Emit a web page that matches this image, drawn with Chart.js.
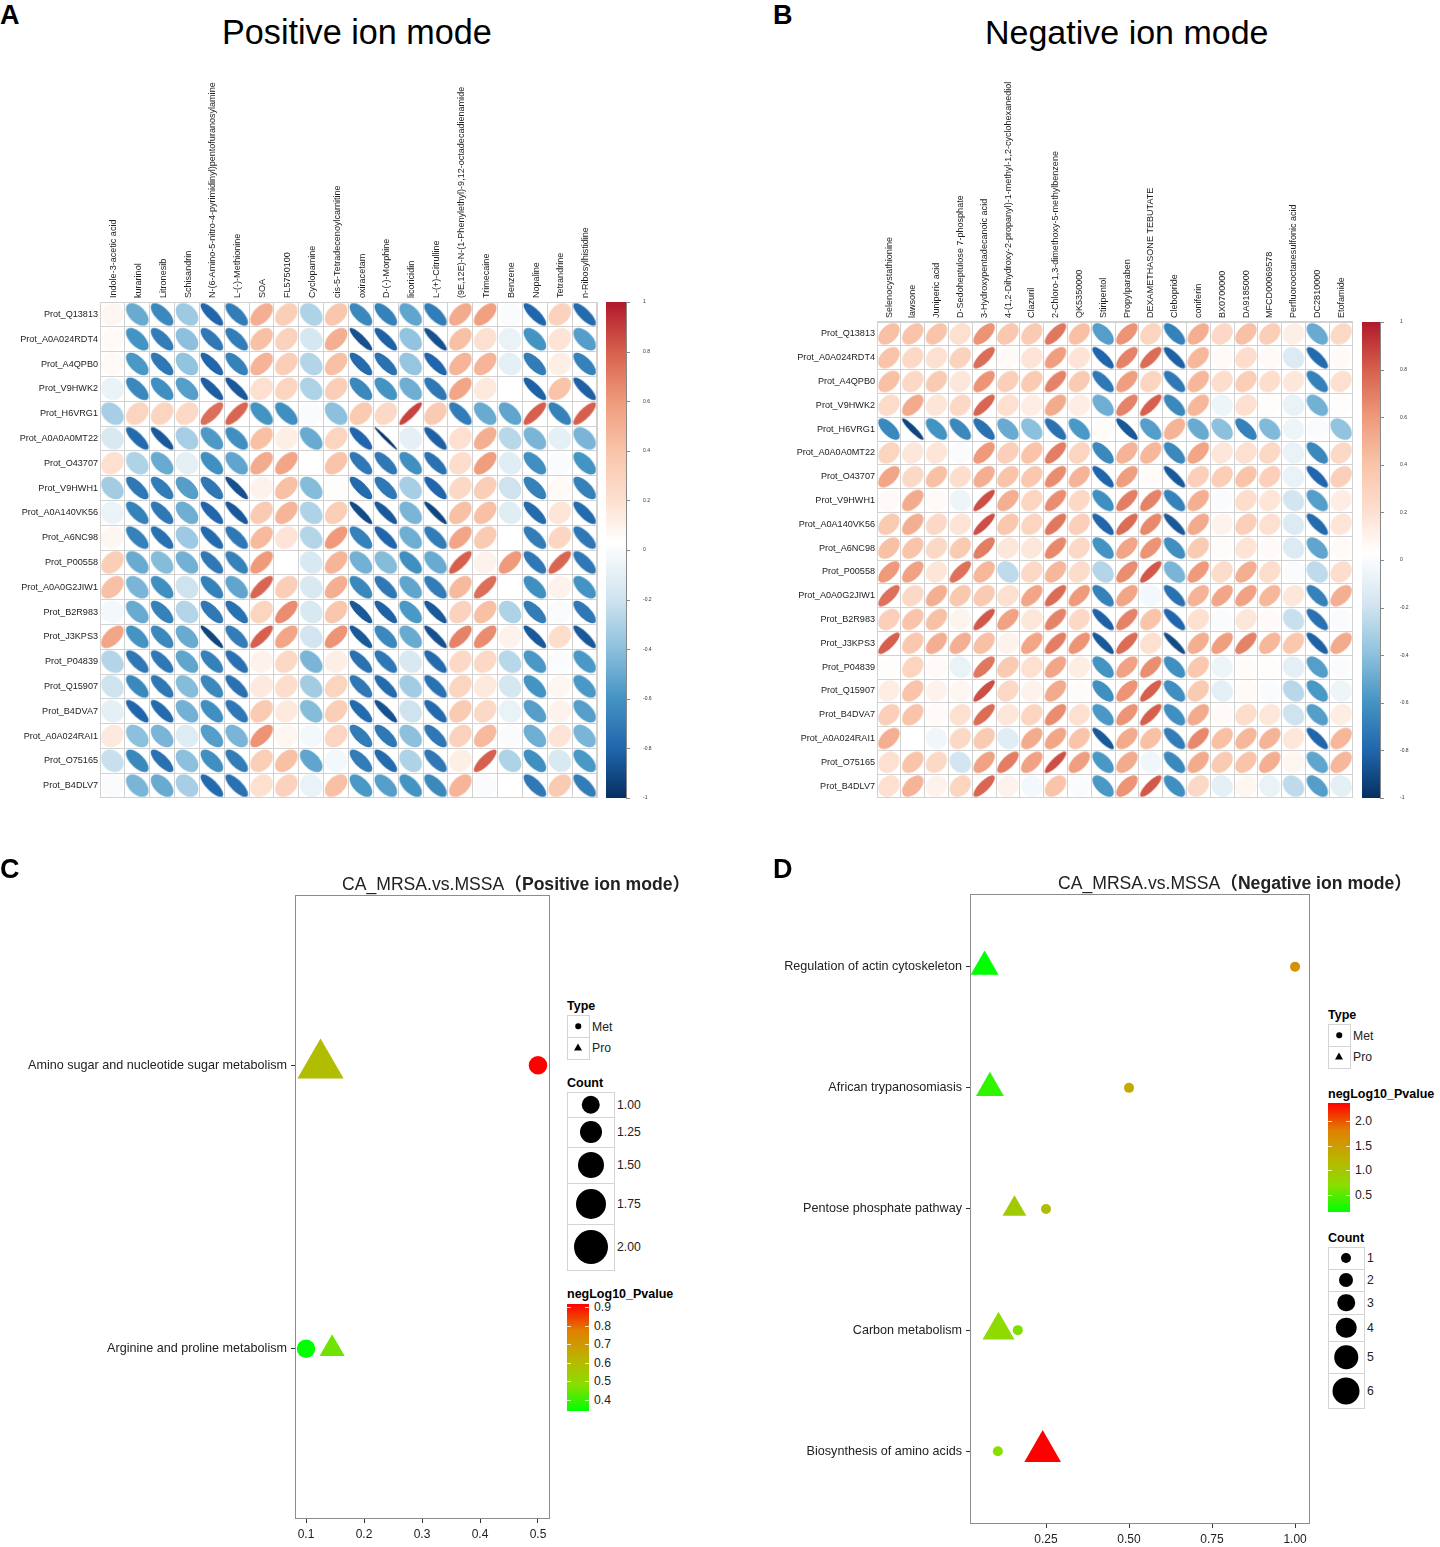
<!DOCTYPE html>
<html>
<head>
<meta charset="utf-8">
<title>Correlation and pathway panels</title>
<script src="https://cdn.jsdelivr.net/npm/chart.js@4"></script>
<style>
  html, body { margin: 0; padding: 0; background: #fff; }
  body { position: relative; width: 1440px; height: 1547px; overflow: hidden; font-family: "Liberation Sans", "Noto Sans CJK SC", sans-serif; color: #000; }
  canvas { position: absolute; }
  .txt { position: absolute; white-space: nowrap; line-height: 1; }
  .box { position: absolute; box-sizing: border-box; border: 1px solid #d4d4d4; background: #fff; }
  .dot { position: absolute; background: #000; border-radius: 50%; transform: translate(-50%, -50%); }
  .tri { position: absolute; width: 0; height: 0; border-left: 4px solid transparent; border-right: 4px solid transparent; border-bottom: 7px solid #000; transform: translate(-50%, -50%); }
</style>
</head>
<body>
<canvas id="chart-a" style="left:0;top:75px"></canvas>
<canvas id="chart-b" style="left:777px;top:75px"></canvas>
<canvas id="chart-c" style="left:0;top:880px"></canvas>
<canvas id="chart-d" style="left:760px;top:880px"></canvas>
<script>
// panel A
const posMetabolites = ["Indole-3-acetic acid", "kurarinol", "Litronesib", "Schisandrin", "N-(6-Amino-5-nitro-4-pyrimidinyl)pentofuranosylamine", "L-(-)-Methionine", "SOA", "FL5750100", "Cyclopamine", "cis-5-Tetradecenoylcarnitine", "oxiracetam", "D-(-)-Morphine", "licoricidin", "L-(+)-Citrulline", "(9E,12E)-N-(1-Phenylethyl)-9,12-octadecadienamide", "Trimecaine", "Benzene", "Nopaline", "Tetrandrine", "n-Ribosylhistidine"];
const posProteins = ["Prot_Q13813", "Prot_A0A024RDT4", "Prot_A4QPB0", "Prot_V9HWK2", "Prot_H6VRG1", "Prot_A0A0A0MT22", "Prot_O43707", "Prot_V9HWH1", "Prot_A0A140VK56", "Prot_A6NC98", "Prot_P00558", "Prot_A0A0G2JIW1", "Prot_B2R983", "Prot_J3KPS3", "Prot_P04839", "Prot_Q15907", "Prot_B4DVA7", "Prot_A0A024RAI1", "Prot_O75165", "Prot_B4DLV7"];
const posCorr = [
  [.08, -.5, -.65, -.35, -.8, -.7, .5, .33, -.3, .38, -.65, -.68, -.52, -.7, .52, .57, 0, -.8, .3, -.78],
  [.06, -.6, -.7, -.4, -.72, -.7, .42, .3, -.17, .5, -.88, -.82, -.38, -.88, .42, .2, -.08, -.6, .18, -.55],
  [.06, -.58, -.72, -.38, -.8, -.68, .48, .33, -.28, .42, -.78, -.75, -.37, -.8, .47, .47, -.1, -.7, .12, -.68],
  [-.07, -.65, -.62, -.55, -.83, -.85, .2, .28, -.3, .33, -.65, -.6, -.48, -.72, .55, .15, .03, -.82, .4, -.82],
  [-.32, .28, .28, .25, .75, .78, -.6, -.62, 0, -.4, .36, .25, .88, .35, -.7, -.5, -.52, .8, -.68, .8],
  [-.15, -.78, -.85, -.32, -.57, -.62, .42, .12, -.5, .28, -.8, -.98, -.1, -.82, .2, .5, -.27, -.45, -.1, -.45],
  [.2, -.3, -.5, -.1, -.62, -.52, .52, .55, .03, .4, -.72, -.72, -.62, -.75, .22, .58, -.12, -.62, 0, -.6],
  [-.33, -.72, -.7, -.55, -.72, -.88, .1, .42, -.42, .04, -.78, -.72, -.32, -.8, .25, .33, -.2, -.68, .06, -.68],
  [-.07, -.68, -.72, -.48, -.8, -.85, .35, .47, -.3, .33, -.9, -.85, -.45, -.92, .42, .42, -.12, -.78, .17, -.78],
  [.08, -.68, -.75, -.35, -.78, -.72, .45, .18, -.28, .6, -.68, -.8, -.48, -.7, .55, .35, .03, -.7, .27, -.72],
  [.33, -.5, -.42, -.47, -.72, -.68, .6, .03, -.15, .47, -.47, -.42, -.62, -.5, .8, .1, .6, -.72, .78, -.72],
  [.42, -.45, -.62, -.2, -.68, -.52, .78, .33, -.15, .5, -.65, -.72, -.52, -.7, .45, .75, .03, -.62, .1, -.6],
  [-.03, -.5, -.68, -.28, -.72, -.75, .28, .65, -.15, .38, -.85, -.82, -.58, -.85, .3, .42, -.3, -.7, 0, -.72],
  [.55, -.6, -.65, -.5, -.92, -.7, .8, .55, -.18, .62, -.85, -.65, -.5, -.88, .68, .65, .1, -.85, .22, -.85],
  [-.28, -.72, -.72, -.52, -.68, -.75, .1, .25, -.45, .12, -.75, -.72, -.15, -.78, .25, .25, -.27, -.58, 0, -.58],
  [-.2, -.65, -.72, -.42, -.65, -.75, .15, .22, -.33, .28, -.72, -.78, -.33, -.75, .28, .15, -.17, -.6, .08, -.58],
  [-.1, -.8, -.78, -.47, -.62, -.72, .35, .15, -.42, .33, -.78, -.88, -.2, -.78, .35, .25, -.08, -.55, .1, -.55],
  [.15, -.4, -.45, -.13, -.55, -.45, .62, .08, -.03, .27, -.7, -.72, -.4, -.72, .3, .45, 0, -.48, .18, -.45],
  [-.22, -.65, -.75, -.4, -.62, -.7, .33, .42, -.52, -.03, -.7, -.78, -.3, -.72, .12, .8, -.3, -.62, -.15, -.58],
  [0, -.45, -.5, -.32, -.78, -.75, .2, .3, -.08, .42, -.58, -.55, -.6, -.65, .47, 0, .03, -.72, .35, -.7],
];

// panel B
const negMetabolites = ["Selenocystathionine", "lawsone", "Juniperic acid", "D-Sedoheptulose 7-phosphate", "3-Hydroxypentadecanoic acid", "4-(1,2-Dihydroxy-2-propanyl)-1-methyl-1,2-cyclohexanediol", "Clazuril", "2-Chloro-1,3-dimethoxy-5-methylbenzene", "QK5350000", "Stiripentol", "Propylparaben", "DEXAMETHASONE TEBUTATE", "Clebopride", "coniferin", "BX0700000", "DA9185000", "MFCD00069578", "Perfluorooctanesulfonic acid", "DC2810000", "Etofamide"];
const negProteins = posProteins;
const negCorr = [
  [.42, .4, .4, .2, .62, .37, .35, .72, .42, -.55, .62, .28, -.68, .5, .25, .42, .33, .12, -.5, .25],
  [.4, .25, .2, .3, .76, .06, .18, .58, .18, -.8, .68, .76, -.82, .46, .06, .22, .06, -.14, -.78, .06],
  [.42, .25, .35, .16, .62, .32, .35, .68, .35, -.72, .58, .28, -.72, .46, .22, .33, .22, .16, -.68, .2],
  [.23, .52, .17, .25, .78, .2, .13, .52, .13, -.48, .68, .8, -.65, .46, -.05, .2, .04, -.08, -.47, .04],
  [-.65, -.92, -.6, -.65, -.75, -.5, -.4, -.75, -.58, .05, -.85, -.55, .48, -.5, -.4, -.68, -.43, -.05, 0, -.38],
  [.28, .16, .17, 0, .6, .32, .4, .7, .28, -.65, .48, .46, -.65, .55, .16, .2, .25, -.08, -.65, .25],
  [.55, .25, .42, .22, .5, .4, .37, .65, .48, -.8, .58, .05, -.85, .32, .33, .4, .32, -.08, -.8, .32],
  [.06, .52, .06, -.05, .85, .5, .28, .65, .25, -.62, .7, .68, -.68, .5, 0, .22, .17, -.18, -.55, .13],
  [.35, .5, .25, .18, .85, .37, .28, .72, .32, -.8, .76, .66, -.85, .52, .1, .32, .2, -.14, -.78, .17],
  [.42, .4, .25, .35, .7, .16, .16, .66, .25, -.6, .55, .62, -.62, .35, .05, .18, .06, -.14, -.52, .06],
  [.6, .56, .17, .74, .46, -.25, .25, .46, .23, -.28, .64, .82, -.45, .6, .23, .5, .22, 0, -.25, .22],
  [.74, .25, .5, .37, .35, .2, .55, .76, .6, -.68, .55, -.03, -.75, .48, .55, .56, .46, .16, -.68, .5],
  [.32, .4, .42, .09, .82, .56, .16, .68, .25, -.82, .68, .4, -.8, .2, 0, .16, .06, -.22, -.75, 0],
  [.8, .37, .5, .5, .42, .1, .55, .7, .62, -.85, .76, .2, -.9, .5, .58, .68, .46, .37, -.82, .52],
  [.04, .28, .06, -.08, .72, .35, .2, .55, .13, -.6, .56, .64, -.62, .37, -.05, .05, .04, -.1, -.55, 0],
  [.13, .4, .1, .08, .85, .25, .1, .52, .05, -.62, .62, .8, -.62, .35, -.1, .06, 0, -.27, -.58, -.05],
  [.32, .4, .06, .2, .76, .16, .28, .65, .2, -.58, .62, .8, -.62, .52, .06, .22, .16, -.2, -.55, .13],
  [.5, .03, -.04, .25, .35, -.12, .52, .55, .4, -.85, .52, .42, -.7, .66, .42, .46, .48, .16, -.8, .46],
  [.2, .4, .25, -.18, .56, .7, .56, .85, .58, -.58, .52, -.04, -.65, .52, .35, .4, .5, .08, -.52, .46],
  [.2, .48, .1, .28, .78, .1, -.03, .4, 0, -.58, .62, .82, -.62, .25, -.1, .08, -.08, -.25, -.55, -.1],
];

// panel C, bottom to top
const cPathways = ["Arginine and proline metabolism", "Amino sugar and nucleotide sugar metabolism"];
const cMetX = [0.1, 0.5];
const cMetCount = [1, 1];
const cMetP = [0.34, 0.94];
const cProX = [0.145, 0.125];
const cProCount = [1, 2];
const cProP = [0.46, 0.6];
const cXTicks = [0.1, 0.2, 0.3, 0.4, 0.5];
const cCountLevels = [1, 1.25, 1.5, 1.75, 2];
const cPvalTicks = [0.9, 0.8, 0.7, 0.6, 0.5, 0.4];

// panel D, bottom to top
const dPathways = ["Biosynthesis of amino acids", "Carbon metabolism", "Pentose phosphate pathway", "African trypanosomiasis", "Regulation of actin cytoskeleton"];
const dMetX = [0.105, 0.165, 0.25, 0.5, 1.0];
const dMetCount = [1, 1, 1, 1, 1];
const dMetP = [0.65, 0.6, 1.1, 1.3, 1.6];
const dProX = [0.24, 0.107, 0.155, 0.081, 0.065];
const dProCount = [6, 5, 3, 4, 4];
const dProP = [2.35, 0.7, 0.9, 0.3, 0.1];
const dXTicks = [0.25, 0.5, 0.75, 1];
const dCountLevels = [1, 2, 3, 4, 5, 6];
const dPvalTicks = [2, 1.5, 1, 0.5];

const FONT = '"Liberation Sans", "Noto Sans CJK SC", sans-serif';
Chart.defaults.font.family = FONT;
Chart.defaults.animation = false;
Chart.defaults.plugins.legend.display = false;
Chart.defaults.plugins.tooltip.enabled = false;

const corrStops = [
  [-1, "#053061"], [-0.8, "#2166AC"], [-0.6, "#4393C3"], [-0.4, "#8CC0DD"], [-0.2, "#CFE3EF"],
  [0.03, "#FFFFFF"], [0.2, "#FDE0D0"], [0.4, "#F9C4A9"], [0.6, "#EF9A7B"], [0.8, "#D6604D"], [1, "#B2182B"],
];
const heatStops = [[0, "#00FF00"], [0.25, "#8CDD00"], [0.5, "#BDB200"], [0.75, "#E08000"], [1, "#FF0000"]];

function hexRgb(h) {
  return [parseInt(h.slice(1, 3), 16), parseInt(h.slice(3, 5), 16), parseInt(h.slice(5, 7), 16)];
}
function rampColor(stops, v) {
  for (let i = 1; i < stops.length; i++) {
    if (v <= stops[i][0]) {
      const t = Math.max(0, (v - stops[i - 1][0]) / (stops[i][0] - stops[i - 1][0]));
      const a = hexRgb(stops[i - 1][1]);
      const b = hexRgb(stops[i][1]);
      return `rgb(${a.map((c, k) => Math.round(c + (b[k] - c) * t)).join(",")})`;
    }
  }
  return stops[stops.length - 1][1];
}

// corrplot style ellipse, used as the point image
const sprites = {};
function ellipseSprite(r, a) {
  const key = `${r}_${a}`;
  if (sprites[key]) return sprites[key];
  const c = document.createElement("canvas");
  c.width = c.height = 26;
  const g = c.getContext("2d");
  const d = Math.acos(Math.max(-0.995, Math.min(0.995, r)));
  g.fillStyle = rampColor(corrStops, r);
  g.beginPath();
  for (let i = 0; i < 72; i++) {
    const t = (i / 72) * Math.PI * 2;
    const px = 13 + a * Math.cos(t + d / 2);
    const py = 13 - a * Math.cos(t - d / 2);
    if (i === 0) g.moveTo(px, py);
    else g.lineTo(px, py);
  }
  g.closePath();
  g.fill();
  sprites[key] = c;
  return c;
}

// keep the plot area exactly where the axis sizes say, no extra label padding
function fixSize(s, w, h) {
  if (w) s.width = w;
  if (h) s.height = h;
  s.paddingLeft = s.paddingRight = s.paddingTop = s.paddingBottom = 0;
}

const framePlugin = {
  id: "frame",
  afterDraw(chart, args, opts) {
    const a = chart.chartArea;
    chart.ctx.save();
    chart.ctx.strokeStyle = opts.color;
    chart.ctx.lineWidth = 1;
    chart.ctx.strokeRect(a.left + 0.5, a.top + 0.5, a.width - 1, a.height - 1);
    chart.ctx.restore();
  },
};

const colorbarPlugin = {
  id: "colorbar",
  afterDraw(chart, args, opts) {
    const s = chart.scales.yc;
    if (!s) return;
    const ctx = chart.ctx;
    const x0 = s.left + opts.gap;
    const grad = ctx.createLinearGradient(0, s.bottom, 0, s.top);
    corrStops.forEach((st) => grad.addColorStop((st[0] + 1) / 2, st[1]));
    ctx.save();
    ctx.fillStyle = grad;
    ctx.fillRect(x0, s.top, opts.width, s.bottom - s.top);
    ctx.strokeStyle = "#888";
    ctx.lineWidth = 1;
    ctx.beginPath();
    ctx.moveTo(x0 + opts.width + 0.5, s.top);
    ctx.lineTo(x0 + opts.width + 0.5, s.bottom);
    s.ticks.forEach((t) => {
      const y = Math.round(s.getPixelForValue(t.value)) + 0.5;
      ctx.moveTo(x0 + opts.width, y);
      ctx.lineTo(x0 + opts.width + 4, y);
    });
    ctx.stroke();
    ctx.restore();
  },
};

function heatChart(id, w, h, mets, prots, corr, topH, radius, barGap, barW, pad, labelShift) {
  const points = [];
  prots.forEach((p, i) => {
    mets.forEach((m, j) => points.push({ x: m, y: p, r: corr[i][j] }));
  });
  const canvas = document.getElementById(id);
  canvas.width = w;
  canvas.height = h;
  new Chart(canvas, {
    type: "scatter",
    data: {
      datasets: [{
        data: points,
        clip: false,
        pointRadius: 12,
        pointStyle: (c) => (c.raw ? ellipseSprite(c.raw.r, radius) : "circle"),
      }],
    },
    plugins: [framePlugin, colorbarPlugin],
    options: {
      responsive: false,
      layout: { autoPadding: false, padding: { bottom: 7 } },
      plugins: {
        frame: { color: "#d2d2d2" },
        colorbar: { gap: barGap, width: barW },
      },
      scales: {
        x: {
          type: "category",
          labels: mets,
          position: "top",
          offset: true,
          afterFit: (s) => fixSize(s, 0, topH),
          grid: { offset: true, color: "#d2d2d2", drawTicks: false },
          border: { display: false },
          ticks: { autoSkip: false, minRotation: 90, maxRotation: 90, padding: 4, labelOffset: labelShift, color: "#222", font: { size: 9.05 } },
        },
        y: {
          type: "category",
          labels: prots,
          offset: true,
          afterFit: (s) => fixSize(s, 100, 0),
          grid: { offset: true, color: "#d2d2d2", drawTicks: false },
          border: { display: false },
          ticks: { autoSkip: false, padding: 2, color: "#222", font: { size: 9.1 } },
        },
        yc: {
          type: "linear",
          position: "right",
          min: -1,
          max: 1,
          afterFit: (s) => fixSize(s, 60, 0),
          grid: { display: false, drawTicks: false },
          border: { display: false },
          ticks: { stepSize: 0.2, padding: pad, color: "#333", font: { size: 5 }, callback: (v) => String(Math.round(v * 10) / 10) },
        },
      },
    },
  });
}

function bubbleChart(id, w, h, padTop, yW, pathways, xMin, xMax, xTicks, xDigits, metX, metCount, metP, proX, proCount, proP, pMin, pMax, sizeOf) {
  const canvas = document.getElementById(id);
  canvas.width = w;
  canvas.height = h;
  const toPoints = (xs, counts, ps) => xs.map((x, i) => ({ x: x, y: i + 1, count: counts[i], p: ps[i] }));
  const color = (c) => rampColor(heatStops, (c.raw.p - pMin) / (pMax - pMin));
  new Chart(canvas, {
    type: "scatter",
    data: {
      datasets: [
        {
          label: "Met",
          data: toPoints(metX, metCount, metP),
          clip: false,
          pointStyle: "circle",
          borderWidth: 0,
          pointBackgroundColor: (c) => (c.raw ? color(c) : "#000"),
          pointRadius: (c) => (c.raw ? sizeOf(c.raw.count) / 2 : 0),
        },
        {
          label: "Pro",
          data: toPoints(proX, proCount, proP),
          clip: false,
          pointStyle: "triangle",
          borderWidth: 0,
          pointBackgroundColor: (c) => (c.raw ? color(c) : "#000"),
          pointRadius: (c) => (c.raw ? (sizeOf(c.raw.count) / 2) * 1.57 : 0),
        },
      ],
    },
    plugins: [framePlugin],
    options: {
      responsive: false,
      layout: { autoPadding: false, padding: { top: padTop, right: 2 } },
      plugins: { frame: { color: "#8c8c8c" } },
      scales: {
        x: {
          type: "linear",
          min: xMin,
          max: xMax,
          afterFit: (s) => fixSize(s, 0, 28),
          afterBuildTicks: (s) => { s.ticks = xTicks.map((v) => ({ value: v })); },
          grid: { drawOnChartArea: false, tickLength: 4, color: "#333" },
          border: { display: false },
          ticks: { autoSkip: false, maxRotation: 0, padding: 4, color: "#222", font: { size: 12 }, callback: (v) => v.toFixed(xDigits) },
        },
        y: {
          type: "linear",
          min: 0.4,
          max: pathways.length + 0.6,
          afterFit: (s) => fixSize(s, yW, 0),
          afterBuildTicks: (s) => { s.ticks = pathways.map((p, i) => ({ value: i + 1 })); },
          grid: { drawOnChartArea: false, tickLength: 4, color: "#333" },
          border: { display: false },
          ticks: { autoSkip: false, padding: 4, color: "#222", font: { size: 12.6 }, callback: (v) => pathways[v - 1] },
        },
      },
    },
  });
}

heatChart("chart-a", 657, 730, posMetabolites, posProteins, posCorr, 227, 11.3, 9, 20, 46, 12);
heatChart("chart-b", 636, 730, negMetabolites, negProteins, negCorr, 247, 10.7, 9, 18, 47, 11);

const cSizes = { 1: 18.5, 1.25: 22, 1.5: 26, 1.75: 30, 2: 34 };
const dSizes = { 1: 10, 2: 14, 3: 17.5, 4: 20.5, 5: 23.5, 6: 27 };
bubbleChart("chart-c", 552, 667, 15, 295, cPathways, 0.081, 0.5207, cXTicks, 1, cMetX, cMetCount, cMetP, cProX, cProCount, cProP, 0.34, 0.94, (n) => cSizes[n]);
bubbleChart("chart-d", 552, 672, 14, 210, dPathways, 0.0211, 1.045, dXTicks, 2, dMetX, dMetCount, dMetP, dProX, dProCount, dProP, 0.1, 2.35, (n) => dSizes[n]);

// plain html for the titles and the ggplot style legends
function txt(x, y, text, size, bold, color) {
  const d = document.createElement("div");
  d.className = "txt";
  d.style.cssText = `left:${x}px;top:${y - size / 2}px;font-size:${size}px;font-weight:${bold ? "bold" : "normal"};color:${color || "#000"}`;
  d.innerHTML = text;
  document.body.appendChild(d);
}
function box(x, y, w, h) {
  const d = document.createElement("div");
  d.className = "box";
  d.style.cssText = `left:${x}px;top:${y}px;width:${w + 1}px;height:${h + 1}px`;
  document.body.appendChild(d);
}
function glyph(cls, x, y, size) {
  const d = document.createElement("div");
  d.className = cls;
  d.style.left = x + "px";
  d.style.top = y + "px";
  if (size) { d.style.width = size + "px"; d.style.height = size + "px"; }
  document.body.appendChild(d);
}
function typeLegend(x, y) {
  txt(x, y - 9, "Type", 12.5, true);
  box(x, y, 22, 22);
  box(x, y + 22, 22, 22);
  glyph("dot", x + 11, y + 11, 5.5);
  glyph("tri", x + 11, y + 32);
  txt(x + 25, y + 12, "Met", 12.2, false, "#222");
  txt(x + 25, y + 33, "Pro", 12.2, false, "#222");
}
function countLegend(x, y, w, levels, edges, sizeOf, digits) {
  txt(x, edges[0] - 9, "Count", 12.5, true);
  levels.forEach((lv, i) => {
    const h = edges[i + 1] - edges[i];
    box(x, edges[i], w, h);
    glyph("dot", x + w / 2, edges[i] + h / 2, sizeOf[lv]);
    txt(x + w + 3, edges[i] + h / 2 + 0.5, lv.toFixed(digits), 12.2, false, "#222");
  });
}
function pvalBar(x, top, bottom, titleY, ticks, tickYs) {
  txt(x, titleY, "negLog10_Pvalue", 12.5, true);
  const bar = document.createElement("div");
  bar.style.cssText = `position:absolute;left:${x}px;top:${top}px;width:22px;height:${bottom - top}px;background:linear-gradient(to top,${heatStops.map((s) => s[1]).join(",")})`;
  document.body.appendChild(bar);
  ticks.forEach((t, i) => {
    [x, x + 18].forEach((tx) => {
      const m = document.createElement("div");
      m.style.cssText = `position:absolute;left:${tx}px;top:${tickYs[i]}px;width:4px;height:1px;background:rgba(255,255,255,.8)`;
      document.body.appendChild(m);
    });
    txt(x + 27, tickYs[i] + 0.5, t.toFixed(1), 12.2, false, "#222");
  });
}

txt(0, 15, "A", 27, true);
txt(773, 15, "B", 27, true);
txt(0, 869, "C", 27, true);
txt(773, 869, "D", 27, true);
txt(222, 32, "Positive ion mode", 34.2);
txt(985, 32, "Negative ion mode", 34);
txt(342, 885, 'CA_MRSA.vs.MSSA<b>（Positive ion mode）</b>', 17.6, false, "#222");
txt(1058, 884, 'CA_MRSA.vs.MSSA<b>（Negative ion mode）</b>', 17.6, false, "#222");

typeLegend(567, 1015);
countLegend(567, 1092, 47, cCountLevels, [1092, 1117, 1147, 1183, 1224, 1270], cSizes, 2);
pvalBar(567, 1304, 1411, 1294, cPvalTicks, [1307, 1326, 1344, 1363, 1381, 1400]);

typeLegend(1328, 1024);
pvalBar(1328, 1103, 1212, 1094, dPvalTicks, [1121, 1146, 1170, 1195]);
countLegend(1328, 1247, 36, dCountLevels, [1247, 1269, 1291, 1314, 1341, 1373, 1408], dSizes, 0);
</script>
</body>
</html>
